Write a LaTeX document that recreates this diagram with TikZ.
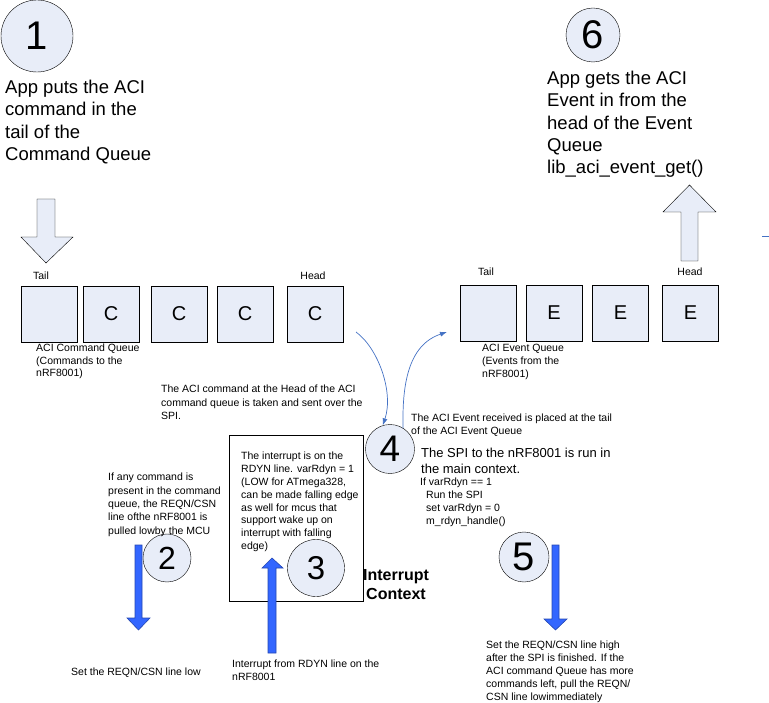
\documentclass[tikz,border=0pt]{standalone}
\usepackage{fontspec}
\setmainfont{Liberation Sans}
\usetikzlibrary{arrows.meta, positioning}
\definecolor{qfill}{RGB}{232,237,248}
\definecolor{linkblue}{RGB}{68,114,196}
\definecolor{pushblue}{RGB}{51,102,255}
\tikzset{line width=0.8pt, >={Latex[length=7pt, width=5pt]},
  qbox/.style={draw, fill=qfill, minimum width=56pt, minimum height=56pt, inner sep=0, font=\fontsize{20}{22}\selectfont},
  numcirc/.style={circle, draw, fill=qfill, inner sep=0},
  note/.style={anchor=north west, align=left, inner sep=0, font=\fontsize{10.5}{13}\selectfont},
  bignote/.style={anchor=north west, align=left, inner sep=0, font=\fontsize{18.5}{22.3}\selectfont},
  endlabel/.style={inner sep=0, font=\fontsize{10.5}{12}\selectfont},
  hollowarrow/.style={draw=black, fill=qfill},
  pusharrow/.style={draw=pushblue!70!black, fill=pushblue, line width=0.6pt},
  link/.style={draw=linkblue, line width=0.7pt, ->}}

\begin{document}
\begin{tikzpicture}[x=1pt, y=-1pt]
	\useasboundingbox (0,0) rectangle (769,703);
	% steps
	\node[numcirc, minimum size=72pt, font=\fontsize{40}{40}\selectfont] (step1) at (37,36) {1};
	\node[numcirc, minimum size=48pt, font=\fontsize{32}{32}\selectfont] (step2) at (167,558) {2};
	\node[numcirc, minimum size=49pt, font=\fontsize{37}{37}\selectfont] (step4) at (390,449) {4};
	\node[numcirc, minimum size=50pt, font=\fontsize{40}{40}\selectfont] (step5) at (524,557) {5};
	\node[numcirc, minimum size=54pt, font=\fontsize{40}{40}\selectfont] (step6) at (593,35) {6};
	\node[bignote] (put) at (5,80) {App puts the ACI\\command in the\\tail of the\\Command Queue};
	\node[bignote] (get) at (547,71) {App gets the ACI\\Event in from the\\head of the Event\\Queue\\lib\_aci\_event\_get()};
	% block arrows
	\draw[hollowarrow] (37,199) -- (55,199) -- (55,237) -- (73,237) -- (46,263) -- (21,237) -- (37,237) -- cycle;
	\draw[hollowarrow] (681,261) -- (698,261) -- (698,212) -- (716,212) -- (689.5,185) -- (663,212) -- (681,212) -- cycle;
	% command queue
	\node[endlabel] (cmdtail) at (41,276) {Tail};
	\node[endlabel] (cmdhead) at (313,276) {Head};
	\node[qbox] (cmd1) at (49,314) {};
	\node[qbox] (cmd2) at (111,314) {C};
	\node[qbox] (cmd3) at (179,314) {C};
	\node[qbox] (cmd4) at (245,314) {C};
	\node[qbox] (cmd5) at (315,314) {C};
	\node[note, font=\fontsize{10.5}{12.3}\selectfont] (cmdname) at (36,344) {ACI Command Queue\\(Commands to the\\nRF8001)};
	% event queue
	\node[endlabel] (evttail) at (486,272) {Tail};
	\node[endlabel] (evthead) at (690,272) {Head};
	\node[qbox] (evt1) at (488,313) {};
	\node[qbox] (evt2) at (554,313) {E};
	\node[qbox] (evt3) at (620.5,313) {E};
	\node[qbox] (evt4) at (690.5,313) {E};
	\node[note] (evtname) at (482,344) {ACI Event Queue\\(Events from the\\nRF8001)};
	\draw[linkblue, line width=0.7pt] (762,236) -- (769,236);
	% spi transfer
	\coordinate (cmdout) at (356,332);
	\coordinate (evtin) at (447,332);
	\draw[link] (cmdout) .. controls (378,348) and (394,392) .. (step4.107);
	\draw[link] (step4.58) .. controls (402,385) and (408,345) .. (evtin);
	\node[note, font=\fontsize{10.5}{13.5}\selectfont] (taken) at (161,385) {The ACI command at the Head of the ACI\\command queue is taken and sent over the\\SPI.};
	\node[note] (placed) at (411,414) {The ACI Event received is placed at the tail\\of the ACI Event Queue};
	\node[note, font=\fontsize{13}{16}\selectfont] (mainspi) at (421,448) {The SPI to the nRF8001 is run in\\the main context.};
	\node[note] (pseudo) at (420,478) {If varRdyn == 1\\\hspace*{6pt}Run the SPI\\\hspace*{6pt}set varRdyn = 0\\\hspace*{6pt}m\_rdyn\_handle()};
	% interrupt context
	\node[draw, fill=white, minimum width=134pt, minimum height=166pt, inner sep=0] (isrbox) at (296,518) {};
	\node[note, font=\fontsize{10.5}{12.8}\selectfont] (isrtext) at (241,452) {The interrupt is on the\\RDYN line. varRdyn = 1\\(LOW for ATmega328,\\can be made falling edge\\as well for mcus that\\support wake up on\\interrupt with falling\\edge)};
	\node[numcirc, minimum size=57pt, font=\fontsize{33}{33}\selectfont] (step3) at (316,568) {3};
	\node[anchor=north, align=center, inner sep=0, font=\bfseries\fontsize{16}{19}\selectfont] (isrname) at (396,569) {Interrupt\\Context};
	\draw[pusharrow] (268,653) -- (276,653) -- (276,568) -- (283,568) -- (272,558) -- (262,568) -- (268,568) -- cycle;
	\node[note] (rdyn) at (232,660) {Interrupt from RDYN line on the\\nRF8001};
	% reqn low
	\node[note, font=\fontsize{10.5}{13.3}\selectfont] (reqnlow) at (108,473) {If any command is\\present in the command\\queue, the REQN/CSN\\line ofthe nRF8001 is\\pulled lowby the MCU};
	\draw[pusharrow] (135,545) -- (142,545) -- (142,618) -- (150,618) -- (138.5,630) -- (127,618) -- (135,618) -- cycle;
	\node[note] (setlow) at (71,668) {Set the REQN/CSN line low};
	% reqn high
	\draw[pusharrow] (552,545) -- (559,545) -- (559,619) -- (567,619) -- (555.5,630) -- (544,619) -- (552,619) -- cycle;
	\node[note] (sethigh) at (486,641) {Set the REQN/CSN line high\\after the SPI is finished. If the\\ACI command Queue has more\\commands left, pull the REQN/\\CSN line lowimmediately};
\end{tikzpicture}
\end{document}
